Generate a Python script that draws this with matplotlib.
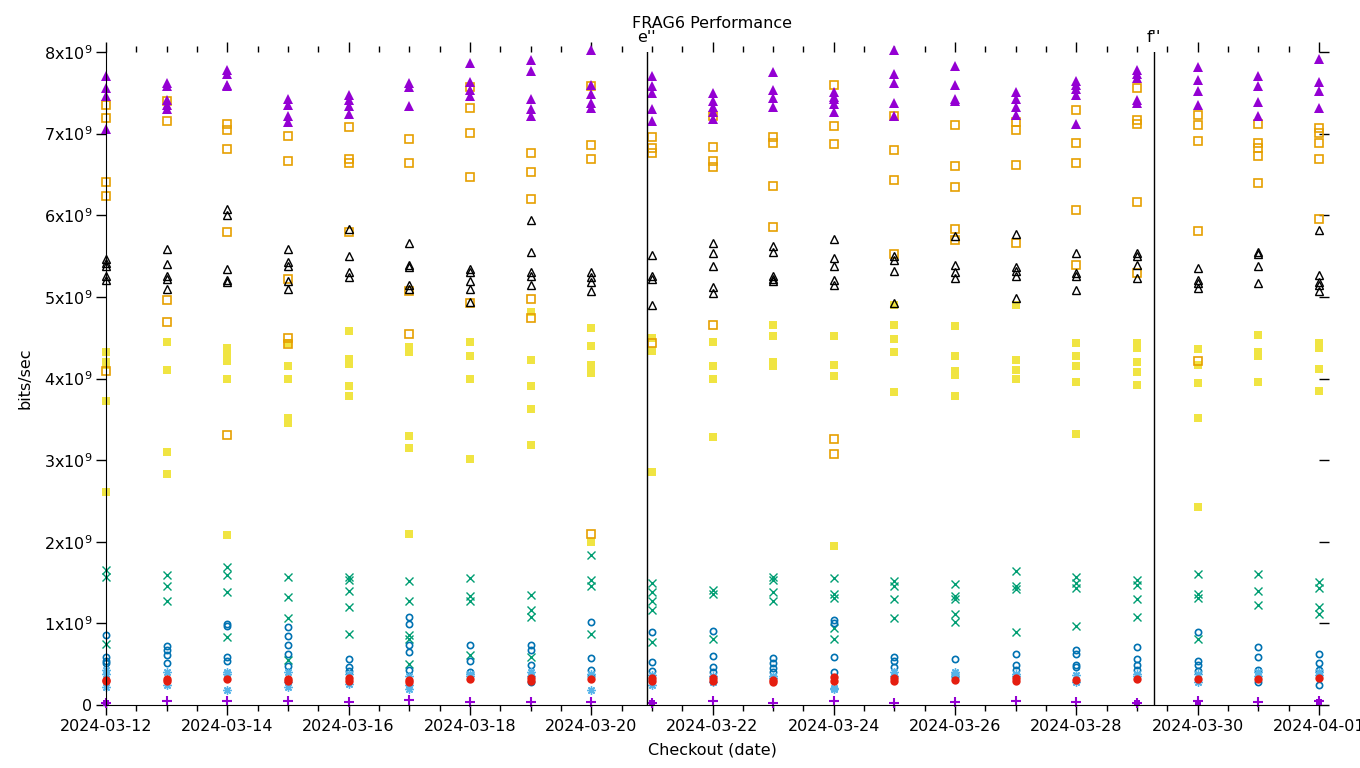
import numpy as np
import pandas as pd
import matplotlib
matplotlib.use('Agg')
import matplotlib.pyplot as plt
import matplotlib.dates as mdates
from matplotlib.ticker import FuncFormatter, MultipleLocator

plt.rcParams['font.family'] = ['DejaVu Sans']
plt.rcParams['mathtext.default'] = 'regular'

# 每天一列，数值单位 1e9 bits/sec
days = pd.date_range('2024-03-12', '2024-04-01', freq='D')

purple_tri = [
    [7.70, 7.56, 7.46, 7.06], [7.62, 7.58, 7.41, 7.35, 7.30], [7.78, 7.73, 7.60, 7.58],
    [7.43, 7.35, 7.22, 7.14], [7.47, 7.41, 7.34, 7.24], [7.62, 7.57, 7.34],
    [7.86, 7.63, 7.54, 7.46], [7.90, 7.77, 7.43, 7.30, 7.22], [8.03, 7.60, 7.49, 7.38, 7.32],
    [7.70, 7.58, 7.50, 7.30, 7.15], [7.50, 7.40, 7.33, 7.26, 7.18], [7.75, 7.54, 7.44, 7.33],
    [7.51, 7.45, 7.36, 7.27, 7.42], [8.02, 7.73, 7.62, 7.38, 7.22], [7.83, 7.59, 7.43, 7.40],
    [7.51, 7.43, 7.33, 7.23], [7.65, 7.60, 7.55, 7.47, 7.12], [7.78, 7.73, 7.68, 7.41, 7.38],
    [7.82, 7.66, 7.52, 7.35], [7.71, 7.58, 7.39, 7.21], [7.92, 7.63, 7.52, 7.31],
]
orange_sq = [
    [7.35, 7.19, 6.41, 6.24, 4.09], [7.40, 7.15, 4.96, 4.69], [7.12, 7.05, 6.81, 5.79, 3.31],
    [6.97, 6.67, 5.22, 4.50, 4.42], [7.08, 6.69, 6.64, 5.79], [6.94, 6.64, 5.07, 4.54],
    [7.57, 7.31, 7.01, 6.47, 4.93], [6.76, 6.53, 6.20, 4.97, 4.74], [7.58, 6.86, 6.69, 2.10],
    [6.96, 6.83, 6.76, 4.44], [7.22, 6.84, 6.66, 6.59, 4.65], [6.96, 6.88, 6.36, 5.86],
    [7.59, 7.09, 6.87, 3.26, 3.07], [7.21, 6.80, 6.43, 5.52], [7.10, 6.60, 6.34, 5.83, 5.70],
    [7.14, 7.05, 6.61, 5.66], [7.29, 6.89, 6.64, 6.06, 5.39], [7.56, 7.17, 7.12, 6.16, 5.29],
    [7.23, 7.10, 6.91, 5.81, 4.22], [7.12, 6.88, 6.83, 6.73, 6.40], [7.07, 7.01, 6.88, 6.69, 5.95],
]
black_tri = [
    [5.47, 5.42, 5.38, 5.26, 5.21], [5.59, 5.40, 5.26, 5.22, 5.10], [6.08, 6.00, 5.34, 5.21, 5.18],
    [5.59, 5.43, 5.38, 5.20, 5.10], [5.83, 5.50, 5.31, 5.24], [5.66, 5.39, 5.37, 5.15, 5.10],
    [5.34, 5.30, 5.19, 5.10, 4.94], [5.94, 5.55, 5.30, 5.26, 5.14], [5.30, 5.24, 5.18, 5.07],
    [5.51, 5.26, 5.22, 4.90], [5.66, 5.54, 5.38, 5.12, 5.05], [5.62, 5.55, 5.26, 5.22, 5.19],
    [5.71, 5.48, 5.38, 5.21, 5.15], [5.50, 5.45, 5.32, 4.93], [5.74, 5.39, 5.31, 5.23],
    [5.77, 5.37, 5.32, 5.25, 4.99], [5.54, 5.29, 5.26, 5.08], [5.54, 5.50, 5.39, 5.23],
    [5.35, 5.21, 5.17, 5.11], [5.55, 5.53, 5.38, 5.17], [5.82, 5.27, 5.18, 5.14, 5.07],
]
yellow_sq = [
    [4.32, 4.20, 4.16, 3.72, 2.61], [4.45, 4.10, 3.10, 2.83], [4.37, 4.29, 4.22, 3.99, 2.08],
    [4.44, 4.15, 4.00, 3.52, 3.45], [4.58, 4.24, 4.18, 3.91, 3.79], [4.38, 4.33, 3.29, 3.15, 2.09],
    [4.45, 4.28, 4.00, 3.01], [4.81, 4.23, 3.91, 3.63, 3.19], [4.62, 4.40, 4.17, 4.07, 2.00],
    [4.50, 4.34, 2.86], [4.45, 4.15, 4.00, 3.28], [4.65, 4.52, 4.20, 4.15],
    [4.52, 4.16, 4.03, 1.95], [4.90, 4.65, 4.49, 4.32, 3.83], [4.64, 4.27, 4.09, 4.04, 3.79],
    [4.90, 4.23, 4.11, 4.00], [4.44, 4.28, 4.15, 3.96, 3.32], [4.44, 4.37, 4.20, 4.08, 3.92],
    [4.36, 4.16, 3.94, 3.51, 2.42], [4.53, 4.32, 4.27, 3.96], [4.44, 4.37, 4.12, 3.85],
]
green_x = [
    [1.65, 1.57, 0.75], [1.59, 1.46, 1.27], [1.69, 1.59, 1.39, 0.83],
    [1.57, 1.32, 1.07, 0.55], [1.57, 1.53, 1.40, 1.20, 0.87], [1.52, 1.27, 0.86, 0.81, 0.50],
    [1.56, 1.33, 1.27, 0.61], [1.35, 1.16, 1.08, 0.59], [1.84, 1.53, 1.46, 0.87],
    [1.50, 1.38, 1.27, 1.16, 0.77], [1.41, 1.36, 0.81], [1.57, 1.53, 1.39, 1.27],
    [1.55, 1.36, 1.31, 0.94, 0.81], [1.52, 1.46, 1.30, 1.07], [1.48, 1.34, 1.30, 1.12, 1.02],
    [1.64, 1.46, 1.42, 0.90], [1.57, 1.50, 1.43, 0.97], [1.53, 1.47, 1.30, 1.08],
    [1.60, 1.36, 1.31, 0.81], [1.61, 1.40, 1.23], [1.51, 1.43, 1.20, 1.12],
]
blue_circ = [
    [0.86, 0.59, 0.54, 0.52], [0.72, 0.67, 0.61, 0.52], [0.99, 0.97, 0.59, 0.54],
    [0.95, 0.84, 0.73, 0.62, 0.48], [0.56, 0.46, 0.42], [1.08, 0.99, 0.74, 0.65, 0.43],
    [0.73, 0.54, 0.41], [0.74, 0.67, 0.49, 0.28], [1.02, 0.58, 0.43, 0.36],
    [0.90, 0.53, 0.42], [0.91, 0.60, 0.46, 0.41], [0.57, 0.51, 0.45, 0.40],
    [1.04, 1.01, 0.59, 0.40], [0.59, 0.54, 0.47], [0.56, 0.38, 0.34],
    [0.63, 0.49, 0.43], [0.67, 0.63, 0.49, 0.46], [0.71, 0.56, 0.49, 0.43],
    [0.89, 0.54, 0.49, 0.42], [0.71, 0.59, 0.43, 0.28], [0.63, 0.51, 0.43, 0.25],
]
lightblue_star = [
    [0.43, 0.38, 0.22], [0.41, 0.25], [0.41, 0.38, 0.18],
    [0.40, 0.28, 0.22], [0.38, 0.26], [0.36, 0.25, 0.20],
    [0.38, 0.35], [0.40, 0.36], [0.38, 0.18],
    [0.37, 0.25], [0.28, 0.36], [0.36, 0.33],
    [0.21, 0.19], [0.40, 0.36], [0.41, 0.36],
    [0.38, 0.35], [0.37, 0.28], [0.38, 0.35],
    [0.38, 0.28], [0.41, 0.36], [0.40, 0.37],
]
red_dot = [
    [0.31, 0.29], [0.32, 0.29], [0.32], [0.32, 0.29], [0.33, 0.30], [0.31, 0.28],
    [0.32], [0.33, 0.30], [0.32], [0.33, 0.30], [0.33, 0.30], [0.31, 0.28],
    [0.34, 0.30], [0.33, 0.30], [0.31], [0.33, 0.29], [0.31], [0.32],
    [0.32], [0.32], [0.33],
]
purple_plus = [0.03, 0.05, 0.05, 0.05, 0.04, 0.06, 0.04, 0.04, 0.04, 0.03, 0.05,
               0.03, 0.05, 0.03, 0.04, 0.05, 0.04, 0.03, 0.05, 0.04, 0.05]
purple_sq_days = ['2024-03-12', '2024-03-21', '2024-03-29', '2024-03-30', '2024-04-01']
purple_sq = [0.03, 0.03, 0.03, 0.03, 0.04]

# 版本标记
markers_at = ['2024-03-20 22:00', '2024-03-29 06:45']
marker_names = ["e''", "f''"]


def scatter_series(ax, per_day, **style):
    xs, ys = [], []
    for d, vals in zip(days, per_day):
        xs += [d] * len(vals)
        ys += list(vals)
    ax.plot(xs, np.array(ys) * 1e9, linestyle='none', clip_on=False, **style)


fig = plt.figure(figsize=(13.6, 7.68), dpi=100)
ax = fig.add_axes([106 / 1360, 1 - 705 / 768, (1319 - 106) / 1360, (705 - 52) / 768])

scatter_series(ax, yellow_sq, marker='s', ms=5.5, color='#f0e442', mew=0)
scatter_series(ax, orange_sq, marker='s', ms=5.5, mfc='none', mec='#e69f00', mew=1.2)
scatter_series(ax, black_tri, marker='^', ms=6, mfc='none', mec='black', mew=1)
scatter_series(ax, purple_tri, marker='^', ms=7, color='#9400d3', mew=0)
scatter_series(ax, green_x, marker='x', ms=6, mec='#009e73', mew=1)
scatter_series(ax, blue_circ, marker='o', ms=4.5, mfc='none', mec='#0072b2', mew=1.2)
scatter_series(ax, lightblue_star, marker=(8, 2, 0), ms=6, mec='#56b4e9', mew=1)
scatter_series(ax, red_dot, marker='o', ms=6, color='#e51e10', mew=0)
ax.plot(days, np.array(purple_plus) * 1e9, linestyle='none', marker='+', ms=7,
        mec='#9400d3', mew=1.5, clip_on=False)
ax.plot(pd.to_datetime(purple_sq_days), np.array(purple_sq) * 1e9, linestyle='none',
        marker='s', ms=5, color='#9400d3', mew=0, clip_on=False)

for t, name in zip(markers_at, marker_names):
    t = pd.Timestamp(t)
    ax.axvline(t, color='black', lw=1)
    ax.text(t, 8.08e9, name, ha='center', va='bottom', fontsize=11.5)

ax.set_xlim(pd.Timestamp('2024-03-12'), pd.Timestamp('2024-04-01'))
ax.set_ylim(0, 8e9)
ax.yaxis.set_major_locator(MultipleLocator(1e9))
ax.yaxis.set_major_formatter(FuncFormatter(
    lambda v, p: '0' if v == 0 else '%dx10$^{9}$' % round(v / 1e9)))
ax.xaxis.set_major_locator(mdates.DayLocator(interval=2))
ax.xaxis.set_minor_locator(mdates.HourLocator(byhour=[0, 12]))
ax.xaxis.set_major_formatter(mdates.DateFormatter('%Y-%m-%d'))

for s in ['top', 'right']:
    ax.spines[s].set_visible(False)
ax.tick_params(which='both', direction='out', top=True, right=True, labelsize=11.5, width=1)
ax.tick_params(which='major', length=7, pad=3)
ax.tick_params(which='minor', length=4)

ax.set_xlabel('Checkout (date)', fontsize=11.5, labelpad=6)
ax.set_ylabel('bits/sec', fontsize=11.5, labelpad=8)
fig.text(712 / 1360, 1 - 24 / 768, 'FRAG6 Performance', ha='center', va='center', fontsize=11.5)

fig.savefig('out.png', dpi=100)
